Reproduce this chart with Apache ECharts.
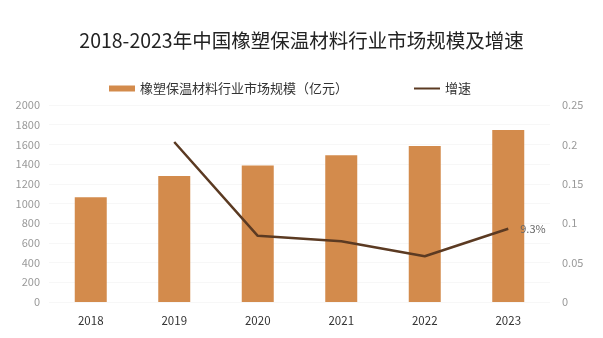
<!DOCTYPE html>
<html><head><meta charset="utf-8">
<script src="https://cdn.jsdelivr.net/npm/echarts@6/dist/echarts.min.js"></script>
<style>html,body{margin:0;padding:0;background:#fff}#c{width:603px;height:338px}</style>
</head><body><div id="c"></div>
<script>
const categories = ['2018','2019','2020','2021','2022','2023'];
const marketSize = [1063, 1280, 1386, 1490, 1585, 1745];
const growth = [null, 0.203, 0.084, 0.077, 0.058, 0.093];
const leftTicks = {min:0, max:2000, interval:200};
const rightTicks = {min:0, max:0.25, interval:0.05};

const chart = echarts.init(document.getElementById('c'));
const font = '"Noto Sans CJK SC", "Noto Sans", sans-serif';
chart.setOption({
  animation:false,
  backgroundColor:'#fff',
  title:{text:'2018-2023年中国橡塑保温材料行业市场规模及增速', left:'center', top:26,
    textStyle:{fontSize:19.5, fontWeight:'normal', color:'#222', fontFamily:font}},
  legend:{top:77, left:104, itemGap:65, itemWidth:26, itemHeight:6,
    textStyle:{fontSize:13, color:'#333', fontFamily:font},
    data:[{name:'橡塑保温材料行业市场规模（亿元）', icon:'rect'},{name:'增速', itemStyle:{opacity:0}}]},
  grid:{left:49, right:53, top:105, bottom:36},
  xAxis:{type:'category', data:categories,
    axisLine:{show:false}, axisTick:{show:false},
    axisLabel:{color:'#333', fontSize:11.5, margin:13, fontFamily:font}},
  yAxis:[
    {type:'value', min:leftTicks.min, max:leftTicks.max, interval:leftTicks.interval,
      axisLabel:{color:'#999', fontSize:11, margin:9, fontFamily:font, formatter:v => String(v)},
      splitLine:{lineStyle:{color:'#f7f7f7'}}, axisLine:{show:false}, axisTick:{show:false}},
    {type:'value', min:rightTicks.min, max:rightTicks.max, interval:rightTicks.interval,
      axisLabel:{color:'#999', fontSize:11, margin:12, fontFamily:font, formatter:v => String(+v.toFixed(2))},
      splitLine:{show:false}, axisLine:{show:false}, axisTick:{show:false}}
  ],
  series:[
    {name:'橡塑保温材料行业市场规模（亿元）', type:'bar', data:marketSize, barWidth:32,
      itemStyle:{color:'#d38b4c'}},
    {name:'增速', type:'line', yAxisIndex:1, data:growth, symbol:'none',
      lineStyle:{color:'#5b3a22', width:2.5}, itemStyle:{color:'#5b3a22'},
      endLabel:{show:true, distance:12, color:'#666', fontSize:11, fontFamily:font,
        formatter:p => (p.value*100).toFixed(1)+'%'}}
  ]
});
</script></body></html>
